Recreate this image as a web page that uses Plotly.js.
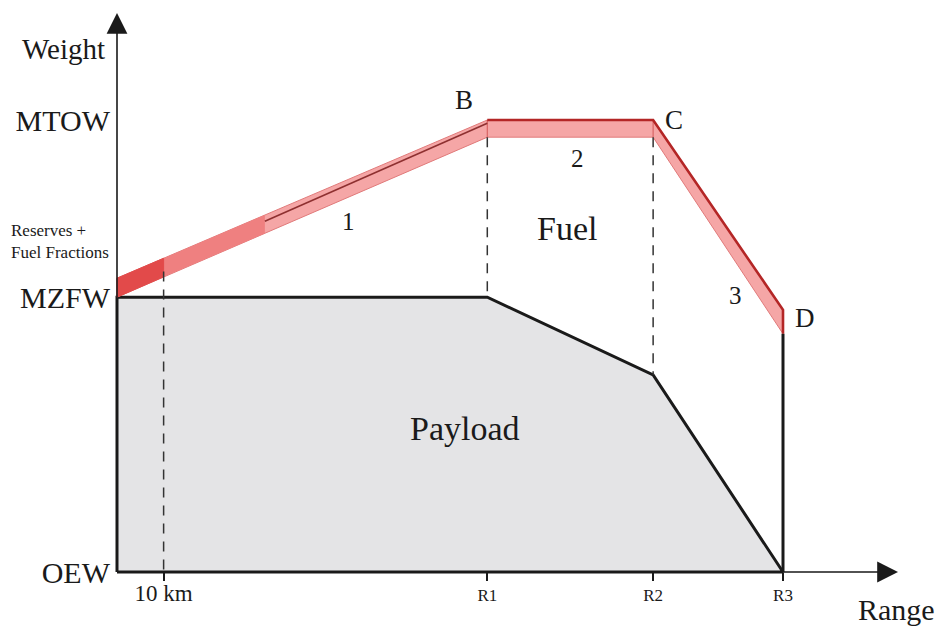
<!DOCTYPE html>
<html>
<head>
<meta charset="utf-8">
<script src="https://cdn.plot.ly/plotly-3.0.1.min.js"></script>
<style>html,body{margin:0;padding:0;background:#fff;}#chart{width:939px;height:626px;}</style>
</head>
<body>
<div id="chart"></div>
<script>
// ---- data (range normalised so R3 = 100, weight normalised so OEW = 0, MTOW = 100) ----
const xTickVals = [7.0, 55.6, 80.5, 100];
const xTickText = ['10 km', 'R1', 'R2', 'R3'];
const yTickVals = [0, 60.8, 100];
const yTickText = ['OEW', 'MZFW', 'MTOW'];

// payload boundary
const payloadX = [0, 0, 55.6, 80.5, 100, 0];
const payloadY = [0, 60.8, 60.8, 43.6, 0, 0];

// take-off weight band (reserves + fuel fractions)
const bandX      = [0,    7.0,  22.2, 55.6, 80.5, 100];
const bandTop    = [65.0, 69.4, 79.0, 100,  100,  58.0];
const bandBottom = [60.8, 65.3, 74.9, 96.2, 96.2, 52.7];
const darkLineX = [22.2, 55.6];
const darkLineY = [77.6, 99.3];

// reference (dashed) lines
const dash10X = [7.0, 7.0],   dash10Y = [66.5, 0];
const dashR1X = [55.6, 55.6], dashR1Y = [96.2, 60.8];
const dashR2X = [80.5, 80.5], dashR2Y = [96.2, 43.6];
const dropX = [100, 100], dropY = [52.7, 0];

// ---- pixel helpers for label placement only ----
const PX0 = 117, PXS = 6.66, PY0 = 572, PYS = 4.52;
const X = p => (p - PX0) / PXS;
const Y = p => (PY0 - p) / PYS;

const L = 105, R = 905, T = 10, B = 588;
const xr = [X(L), X(R)];
const yr = [Y(B), Y(T)];
const PXp = p => (p - L) / (R - L);
const PYp = p => (B - p) / (B - T);

const FONT = 'Liberation Serif, Times New Roman, serif';
const INK = '#1a1a1a';

function seg(i0, i1) {
  const xs = [], ys = [];
  for (let i = i0; i <= i1; i++) { xs.push(bandX[i]); ys.push(bandTop[i]); }
  for (let i = i1; i >= i0; i--) { xs.push(bandX[i]); ys.push(bandBottom[i]); }
  xs.push(bandX[i0]); ys.push(bandTop[i0]);
  return {x: xs, y: ys};
}

const traces = [];
// payload
traces.push({x: payloadX, y: payloadY, mode: 'lines', fill: 'toself', fillcolor: '#e4e4e6',
  line: {color: INK, width: 3}, hoverinfo: 'skip'});
// band full
const full = seg(0, bandX.length - 1);
traces.push({x: full.x, y: full.y, mode: 'lines', fill: 'toself', fillcolor: '#f5a6a6',
  line: {color: '#e07a7a', width: 1}, hoverinfo: 'skip'});
// band medium section
const mid = seg(1, 2);
traces.push({x: mid.x, y: mid.y, mode: 'lines', fill: 'toself', fillcolor: '#ef8080',
  line: {color: 'rgba(0,0,0,0)', width: 0}, hoverinfo: 'skip'});
// band dark section (reserves)
const dark = seg(0, 1);
traces.push({x: dark.x, y: dark.y, mode: 'lines', fill: 'toself', fillcolor: '#e24a4a',
  line: {color: '#e24a4a', width: 1}, hoverinfo: 'skip'});
// inner vertical edges at B and C
traces.push({x: [bandX[3], bandX[3], null, bandX[4], bandX[4]],
  y: [bandTop[3], bandBottom[3], null, bandTop[4], bandBottom[4]],
  mode: 'lines', line: {color: '#d96464', width: 1.2}, hoverinfo: 'skip'});
// dark line along segment 1
traces.push({x: darkLineX, y: darkLineY, mode: 'lines', line: {color: '#8e3030', width: 1.6}, hoverinfo: 'skip'});
// dark top edge B-C-D and D side
traces.push({x: [bandX[3], bandX[4], bandX[5], bandX[5]], y: [bandTop[3], bandTop[4], bandTop[5], bandBottom[5]],
  mode: 'lines', line: {color: '#b42626', width: 2.6}, hoverinfo: 'skip'});
// dashed reference lines
const dashStyle = {color: '#333', width: 1.5, dash: '10px,8px'};
[[dash10X, dash10Y], [dashR1X, dashR1Y], [dashR2X, dashR2Y]].forEach(([xx, yy]) =>
  traces.push({x: xx, y: yy, mode: 'lines', line: dashStyle, hoverinfo: 'skip'}));
// drop at R3
traces.push({x: dropX, y: dropY, mode: 'lines', line: {color: INK, width: 3}, hoverinfo: 'skip'});

const ann = [];
function txt(t, px, py, size, extra) {
  ann.push(Object.assign({x: PXp(px), y: PYp(py), xref: 'paper', yref: 'paper', text: t, showarrow: false,
    xanchor: 'center', yanchor: 'middle',
    font: {family: FONT, size: size, color: INK}}, extra || {}));
}
// axis arrows
ann.push({x: X(898), y: 0, ax: 0, ay: 0, axref: 'x', ayref: 'y', xref: 'x', yref: 'y', text: '',
  showarrow: true, arrowhead: 2, arrowsize: 2.6, arrowwidth: 1.6, arrowcolor: INK, standoff: 0});
ann.push({x: 0, y: Y(13), ax: 0, ay: 0, axref: 'x', ayref: 'y', xref: 'x', yref: 'y', text: '',
  showarrow: true, arrowhead: 2, arrowsize: 2.6, arrowwidth: 1.6, arrowcolor: INK, standoff: 0});

txt('Weight', 63, 49, 29);
txt('Reserves +<br>Fuel Fractions', 9, 241, 17, {xanchor: 'left', align: 'left'});
txt('Range', 896, 609, 30);
txt('B', 464, 100, 27);
txt('C', 674, 120, 27);
txt('D', 805, 318, 27);
txt('1', 348, 221, 25);
txt('2', 577, 159, 25);
txt('3', 735, 295, 25);
txt('Fuel', 567, 228, 34);
txt('Payload', 465, 428, 34);

const xTickHtml = xTickText.map((t, i) => i === 0 ? '<span style="font-size:23px">' + t + '</span>' : t);

const layout = {
  width: 939, height: 626,
  margin: {l: L, r: 939 - R, t: T, b: 626 - B, pad: 0},
  paper_bgcolor: '#fff', plot_bgcolor: 'rgba(0,0,0,0)',
  showlegend: false,
  xaxis: {range: xr, showgrid: false, zeroline: false, showline: false,
    anchor: 'free', position: (0 - yr[0]) / (yr[1] - yr[0]),
    tickmode: 'array', tickvals: xTickVals, ticktext: xTickHtml,
    ticks: 'outside', ticklen: 8, tickwidth: 2, tickcolor: INK,
    tickfont: {family: FONT, size: 17, color: INK}, fixedrange: true},
  yaxis: {range: yr, showgrid: false, zeroline: false, showline: false,
    anchor: 'free', position: (0 - xr[0]) / (xr[1] - xr[0]),
    tickmode: 'array', tickvals: yTickVals, ticktext: yTickText, ticklabelstandoff: 7,
    ticks: '', tickfont: {family: FONT, size: 30, color: INK}, fixedrange: true},
  annotations: ann
};

Plotly.newPlot('chart', traces, layout, {displayModeBar: false, staticPlot: true});
</script>
</body>
</html>
